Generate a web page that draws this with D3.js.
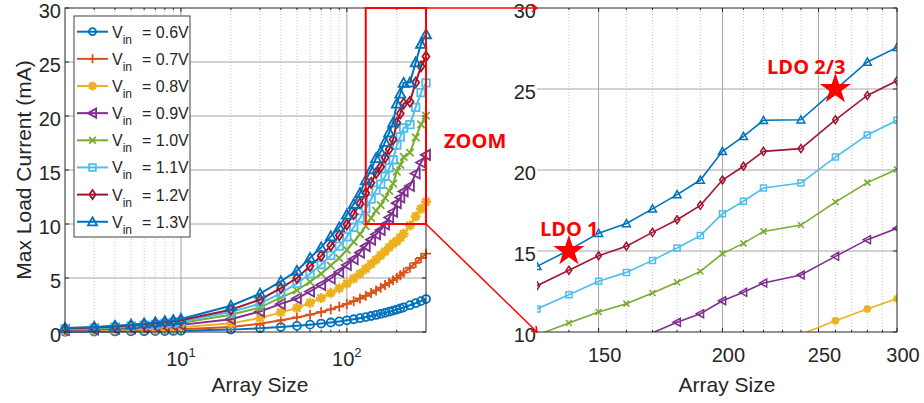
<!DOCTYPE html>
<html>
<head>
<meta charset="utf-8">
<script src="https://cdn.jsdelivr.net/npm/d3@7"></script>
<style>
  body { margin: 0; background: #fff; }
  svg { display: block; font-family: "Liberation Sans", Arial, sans-serif; }
</style>
</head>
<body>
<svg id="chart" width="924" height="403"></svg>
<script>
// array sizes (x) shared by every series
const arraySize = [2,3,4,5,6,7,8,9,10,20,30,40,50,60,70,80,90,100,110,120,130,140,150,160,170,180,190,200,210,220,240,260,280,300];

// max load current (mA) per input voltage
const v06 = [0.03,0.04,0.05,0.06,0.07,0.08,0.09,0.10,0.11,0.22,0.35,0.46,0.57,0.68,0.78,0.88,0.98,1.08,1.18,1.28,1.38,1.48,1.58,1.68,1.78,1.88,1.98,2.08,2.18,2.28,2.48,2.67,2.86,3.05];
const v07 = [0.07,0.09,0.11,0.14,0.16,0.18,0.20,0.23,0.25,0.47,0.77,1.08,1.35,1.60,1.85,2.10,2.35,2.60,2.85,3.10,3.35,3.60,3.85,4.10,4.35,4.55,4.80,5.00,5.25,5.50,5.95,6.40,6.85,7.25];
const v08 = [0.12,0.16,0.20,0.24,0.28,0.32,0.36,0.40,0.45,0.80,1.30,1.82,2.22,2.70,3.15,3.60,4.05,4.50,4.95,5.40,5.85,6.30,6.70,7.10,7.45,7.85,8.20,8.40,8.75,9.10,9.85,10.70,11.42,12.06];
const v09 = [0.18,0.24,0.30,0.36,0.42,0.48,0.54,0.60,0.66,1.18,1.90,2.60,3.10,3.75,4.35,4.95,5.55,6.20,6.75,7.35,7.95,8.55,9.05,9.45,9.95,10.60,11.13,11.93,12.45,13.02,13.52,14.67,15.70,16.40];
const v10 = [0.24,0.31,0.38,0.46,0.54,0.61,0.69,0.76,0.83,1.60,2.28,3.18,3.85,4.65,5.40,6.15,6.85,7.60,8.35,9.05,9.80,10.56,11.23,11.75,12.41,13.07,13.74,14.84,15.47,16.21,16.60,18.02,19.22,20.04];
const v11 = [0.28,0.36,0.45,0.54,0.63,0.71,0.80,0.88,0.96,1.85,2.62,3.60,4.50,5.40,6.25,7.10,7.95,8.80,9.70,10.55,11.42,12.30,13.13,13.68,14.42,15.19,15.95,17.30,18.07,18.89,19.20,20.80,22.16,23.07];
const v12 = [0.33,0.42,0.52,0.61,0.71,0.80,0.90,0.99,1.08,2.06,3.00,4.07,5.00,6.10,7.05,8.00,8.95,9.95,10.90,11.90,12.86,13.81,14.71,15.29,16.15,16.93,17.82,19.38,20.23,21.15,21.32,23.10,24.60,25.51];
const v13 = [0.37,0.47,0.58,0.68,0.79,0.90,1.00,1.10,1.21,2.43,3.55,4.69,5.67,6.85,7.84,8.86,9.70,10.86,11.85,12.87,14.05,15.05,16.10,16.70,17.60,18.48,19.38,21.15,22.08,23.07,23.10,24.96,26.67,27.57];

const legendLabels = ["0.6V","0.7V","0.8V","0.9V","1.0V","1.1V","1.2V","1.3V"];
const markers = ["o","+","*","<","x","s","d","^"];
const colors = ["#0072BD","#D95319","#EDB120","#7E2F8E","#77AC30","#4DBEEE","#A2142F","#0072BD"];
const seriesValues = [v06,v07,v08,v09,v10,v11,v12,v13];

// left plot ticks
const leftYTicks = [0,5,10,15,20,25,30];
const leftXMajor = [10,100];
const leftXMinor = [3,4,5,6,7,8,9,20,30,40,50,60,70,80,90,200];
// right (zoom) plot ticks
const rightYTicks = [10,15,20,25,30];
const rightXMajor = [150,200,250,300];
const rightXMinor = [140,160,170,180,190,210,220,230,240,260,270,280,290];

// zoom window and annotations
const zoomX = [130,300], zoomY = [10,30];
const stars = [{x:140, y:15, label:"LDO 1"}, {x:260, y:25, label:"LDO 2/3"}];

const series = legendLabels.map((lab,i) => ({
  label: lab, marker: markers[i], color: colors[i],
  values: arraySize.map((n,j) => [n, seriesValues[i][j]])
}));

const svg = d3.select("#chart");
const pTop = 8, pBot = 332;

const xL = d3.scaleLog().domain([2,300]).range([65,426]);
const yL = d3.scaleLinear().domain([0,30]).range([pBot, pTop]);
const xR = d3.scaleLog().domain(zoomX).range([537,897]);
const yR = d3.scaleLinear().domain(zoomY).range([pBot, pTop]);

function markerPath(t, r) {
  switch (t) {
    case "o": return `M${r},0A${r},${r} 0 1,1 ${-r},0A${r},${r} 0 1,1 ${r},0Z`;
    case "+": return `M${-r},0L${r},0M0,${-r}L0,${r}`;
    case "*": { const k = r*0.72; return `M${-r},0L${r},0M0,${-r}L0,${r}M${-k},${-k}L${k},${k}M${-k},${k}L${k},${-k}`; }
    case "<": return `M${-r},0L${r*0.8},${-r}L${r*0.8},${r}Z`;
    case "x": { const k = r*0.75; return `M${-k},${-k}L${k},${k}M${-k},${k}L${k},${-k}`; }
    case "s": { const k = r*0.75; return `M${-k},${-k}L${k},${-k}L${k},${k}L${-k},${k}Z`; }
    case "d": return `M0,${-r}L${r*0.7},0L0,${r}L${-r*0.7},0Z`;
    case "^": return `M0,${-r}L${r},${r*0.8}L${-r},${r*0.8}Z`;
  }
}

const gridMajor = "#a6a6a6", gridMinor = "#c8c8c8", axisCol = "#262626";

// ---------- left plot ----------
const gL = svg.append("g");

gL.selectAll(".minx").data(leftXMinor).join("line")
  .attr("x1", d => xL(d)).attr("x2", d => xL(d)).attr("y1", pTop).attr("y2", pBot)
  .attr("stroke", gridMinor).attr("stroke-dasharray", "1,2");
gL.selectAll(".majx").data(leftXMajor).join("line")
  .attr("x1", d => xL(d)).attr("x2", d => xL(d)).attr("y1", pTop).attr("y2", pBot)
  .attr("stroke", gridMajor);
gL.selectAll(".majy").data(leftYTicks.slice(1,-1)).join("line")
  .attr("x1", xL.range()[0]).attr("x2", xL.range()[1]).attr("y1", d => yL(d)).attr("y2", d => yL(d))
  .attr("stroke", gridMajor);

// tick marks (inside)
gL.selectAll(".tky").data(leftYTicks).join("path")
  .attr("d", d => `M${xL.range()[0]},${yL(d)}h4M${xL.range()[1]},${yL(d)}h-4`)
  .attr("stroke", axisCol);
gL.selectAll(".tkx").data(leftXMajor).join("path")
  .attr("d", d => `M${xL(d)},${pBot}v-4M${xL(d)},${pTop}v4`).attr("stroke", axisCol);
gL.selectAll(".tkxm").data(leftXMinor).join("path")
  .attr("d", d => `M${xL(d)},${pBot}v-2M${xL(d)},${pTop}v2`).attr("stroke", axisCol);

const lineL = d3.line().x(d => xL(d[0])).y(d => yL(d[1]));
series.forEach(s => {
  const g = gL.append("g").attr("stroke", s.color).attr("fill", "none");
  g.append("path").datum(s.values).attr("d", lineL).attr("stroke-width", 2);
  g.selectAll("path.m").data(s.values).join("path").attr("class", "m")
    .attr("transform", d => `translate(${xL(d[0])},${yL(d[1])})`)
    .attr("d", markerPath(s.marker, s.marker === "o" ? 4 : 5))
    .attr("stroke-width", s.marker === "*" ? 2.5 : 1.8);
});

gL.append("rect").attr("x", xL.range()[0]).attr("y", pTop)
  .attr("width", xL.range()[1]-xL.range()[0]).attr("height", pBot-pTop)
  .attr("fill", "none").attr("stroke", axisCol).attr("stroke-width", 1);

// y tick labels
gL.selectAll(".ly").data(leftYTicks).join("text")
  .attr("x", 61).attr("y", d => yL(d)).attr("dy", "0.5em")
  .attr("text-anchor", "end").attr("font-size", 20).attr("fill", "#262626")
  .text(d => d);
// x tick labels 10^n
const lx = gL.selectAll(".lx").data(leftXMajor).join("text")
  .attr("x", d => xL(d)).attr("y", 366).attr("text-anchor", "middle")
  .attr("font-size", 20).attr("fill", "#262626");
lx.append("tspan").text("10");
lx.append("tspan").attr("font-size", 13).attr("dy", -9).text(d => Math.round(Math.log10(d)));

gL.append("text").attr("x", 260).attr("y", 392).attr("text-anchor", "middle")
  .attr("font-size", 21).attr("fill", "#262626").text("Array Size");
gL.append("text").attr("transform", "translate(31,170) rotate(-90)").attr("text-anchor", "middle")
  .attr("font-size", 21).attr("fill", "#262626").text("Max Load Current (mA)");

// legend
const lg = svg.append("g");
lg.append("rect").attr("x", 74).attr("y", 16).attr("width", 116).attr("height", 221)
  .attr("fill", "#fff").attr("stroke", "#404040").attr("stroke-width", 1);
series.forEach((s,i) => {
  const y = 31.7 + i*27.15;
  const e = lg.append("g");
  e.append("line").attr("x1", 77).attr("x2", 108).attr("y1", y).attr("y2", y)
    .attr("stroke", s.color).attr("stroke-width", 2);
  e.append("path").attr("transform", `translate(92.5,${y})`)
    .attr("d", markerPath(s.marker, s.marker === "o" ? 3.5 : 4.5))
    .attr("fill", "none").attr("stroke", s.color).attr("stroke-width", s.marker === "*" ? 2.5 : 1.8);
  const t = e.append("text").attr("x", 112).attr("y", y + 6).attr("font-size", 16).attr("fill", "#262626");
  t.append("tspan").text("V");
  t.append("tspan").attr("font-size", 12).attr("dy", 6).text("in");
  e.append("text").attr("x", 142).attr("y", y + 6).attr("font-size", 16).attr("fill", "#262626")
    .text("= " + s.label);
});

// ---------- right (zoom) plot ----------
const gR = svg.append("g");
svg.append("defs").append("clipPath").attr("id", "clipR").append("rect")
  .attr("x", 537).attr("y", pTop).attr("width", 360).attr("height", pBot-pTop);

gR.selectAll(".minx").data(rightXMinor).join("line")
  .attr("x1", d => xR(d)).attr("x2", d => xR(d)).attr("y1", pTop).attr("y2", pBot)
  .attr("stroke", gridMinor).attr("stroke-dasharray", "1,2");
gR.selectAll(".majx").data(rightXMajor.slice(0,-1)).join("line")
  .attr("x1", d => xR(d)).attr("x2", d => xR(d)).attr("y1", pTop).attr("y2", pBot)
  .attr("stroke", gridMajor);
gR.selectAll(".majy").data(rightYTicks.slice(1,-1)).join("line")
  .attr("x1", xR.range()[0]).attr("x2", xR.range()[1]).attr("y1", d => yR(d)).attr("y2", d => yR(d))
  .attr("stroke", gridMajor);
gR.selectAll(".tkx").data(rightXMajor).join("path")
  .attr("d", d => `M${xR(d)},${pBot}v-4M${xR(d)},${pTop}v4`).attr("stroke", axisCol);
gR.selectAll(".tkxm").data(rightXMinor).join("path")
  .attr("d", d => `M${xR(d)},${pBot}v-2M${xR(d)},${pTop}v2`).attr("stroke", axisCol);
gR.selectAll(".tky").data(rightYTicks).join("path")
  .attr("d", d => `M${xR.range()[1]},${yR(d)}h-4`).attr("stroke", axisCol);

const lineR = d3.line().x(d => xR(d[0])).y(d => yR(d[1]));
const plotR = gR.append("g").attr("clip-path", "url(#clipR)");
series.forEach(s => {
  const vals = s.values.filter(d => d[0] >= 120);
  const g = plotR.append("g").attr("stroke", s.color).attr("fill", "none");
  g.append("path").datum(vals).attr("d", lineR).attr("stroke-width", 1.6);
  g.selectAll("path.m").data(vals.filter(d => d[0] >= zoomX[0] && d[1] >= zoomY[0])).join("path").attr("class", "m")
    .attr("transform", d => `translate(${xR(d[0])},${yR(d[1])})`)
    .attr("d", markerPath(s.marker, s.marker === "o" ? 3 : 4))
    .attr("stroke-width", s.marker === "*" ? 2.2 : 1.5);
});

gR.append("path")
  .attr("d", `M${xR.range()[0]},${pTop}H${xR.range()[1]}V${pBot}H${xR.range()[0]}`)
  .attr("fill", "none").attr("stroke", axisCol);

gR.selectAll(".ry").data(rightYTicks).join("text")
  .attr("x", 536).attr("y", d => yR(d)).attr("dy", "0.5em")
  .attr("text-anchor", "end").attr("font-size", 20).attr("fill", "#262626").text(d => d);
gR.selectAll(".rx").data(rightXMajor).join("text")
  .attr("x", d => xR(d) + 6).attr("y", 362).attr("text-anchor", "middle")
  .attr("font-size", 20).attr("fill", "#262626").text(d => d);
gR.append("text").attr("x", 727).attr("y", 392).attr("text-anchor", "middle")
  .attr("font-size", 21).attr("fill", "#262626").text("Array Size");

// stars + labels
const starPath = d3.symbol().type(d3.symbolStar).size(300)();
stars.forEach((s,i) => {
  gR.append("path").attr("transform", `translate(${xR(s.x)},${yR(s.y)})`)
    .attr("d", starPath).attr("fill", "#ff0000");
  gR.append("text")
    .attr("x", i === 0 ? xR(s.x) - 29 : xR(s.x) + 10)
    .attr("y", yR(s.y) - 15)
    .attr("text-anchor", i === 0 ? "start" : "end")
    .attr("font-family", "'Open Sans', sans-serif").attr("font-weight", "bold")
    .attr("font-size", 20).attr("fill", "#ff0000").text(s.label);
});

// ---------- zoom box and arrows ----------
const red = "#ff0000";
const zx0 = xL(zoomX[0]), zx1 = xL(zoomX[1]), zy0 = yL(zoomY[1]), zy1 = yL(zoomY[0]);
svg.append("rect").attr("x", zx0).attr("y", zy0).attr("width", zx1-zx0).attr("height", zy1-zy0)
  .attr("fill", "none").attr("stroke", red).attr("stroke-width", 2);
svg.append("line").attr("x1", zx1).attr("y1", zy0).attr("x2", xR.range()[0]).attr("y2", yR(zoomY[1]))
  .attr("stroke", red).attr("stroke-width", 1.5);
svg.append("path").attr("d", `M${xR.range()[0]-5},${pTop-4}L${xR.range()[0]},${pTop}L${xR.range()[0]-5},${pTop+4}`)
  .attr("fill", "none").attr("stroke", red).attr("stroke-width", 1.5);
svg.append("line").attr("x1", zx1).attr("y1", zy1).attr("x2", xR.range()[0]).attr("y2", yR(zoomY[0]))
  .attr("stroke", red).attr("stroke-width", 1.5);
svg.append("path").attr("d", `M${xR.range()[0]-6},${pBot-1}L${xR.range()[0]},${pBot}L${xR.range()[0]-1},${pBot-6}`)
  .attr("fill", "none").attr("stroke", red).attr("stroke-width", 1.5);
svg.append("text").attr("x", 444).attr("y", 148)
  .attr("font-family", "'Open Sans', sans-serif").attr("font-weight", "bold")
  .attr("font-size", 20).attr("fill", red).text("ZOOM");
</script>
</body>
</html>
